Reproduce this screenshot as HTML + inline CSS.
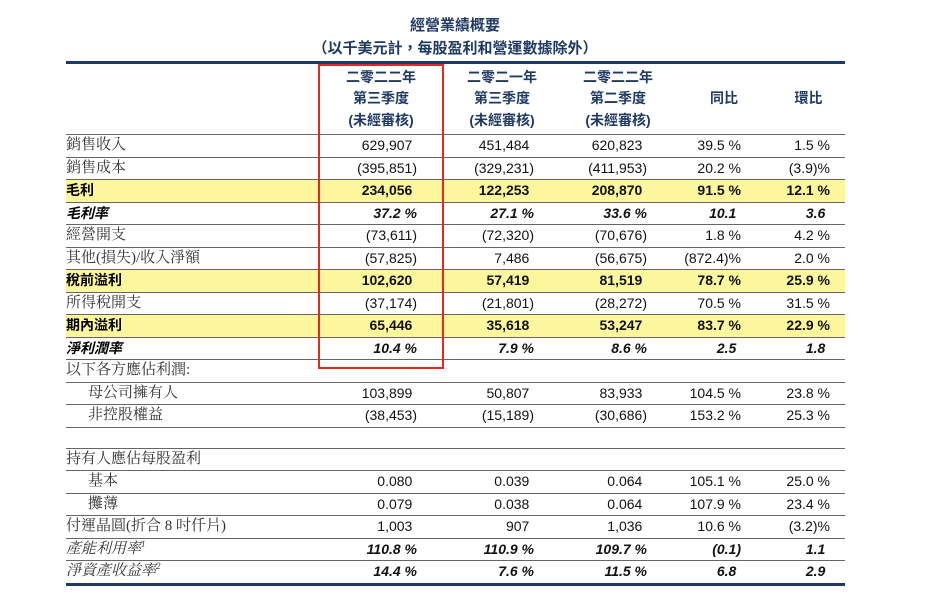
<!DOCTYPE html>
<html><head><meta charset="utf-8"><style>
body{margin:0;background:#fff;width:927px;height:595px;position:relative;overflow:hidden;font-family:"Liberation Sans","Noto Sans CJK TC",sans-serif;}
.t1{position:absolute;left:0;width:910px;text-align:center;top:14px;font-size:15px;font-weight:bold;color:#1f3a63}
.t2{position:absolute;left:0;width:910px;text-align:center;top:37px;font-size:15px;font-weight:bold;color:#1f3a63}
table{position:absolute;left:66px;top:61px;width:779px;border-collapse:collapse;table-layout:fixed;font-size:14px;color:#111}
td{padding:0;height:21.5px;border-bottom:1px solid #666;text-align:right;white-space:nowrap;line-height:21px}
tr.hd td{height:70px;border-top:3px solid #1f3864;text-align:center;font-weight:bold;color:#1f3a63;line-height:21.5px;vertical-align:middle}
td.l{text-align:left;font-family:"Liberation Serif","Noto Serif CJK TC",serif;color:#333;font-size:15px}
td.c1{padding-right:27px}td.c2{padding-right:26px}td.c3{padding-right:29px}td.c4{padding-right:31px}td.c5{padding-right:15px}
td.n::after{content:")";visibility:hidden}
tr.y td{background:#fcf69c;font-weight:bold}
tr.y td.l{font-family:"Liberation Sans","Noto Sans CJK TC",sans-serif;color:#000;font-size:14px}
tr.i td{font-weight:bold;font-style:italic}
tr.i td.l{font-family:"Liberation Sans","Noto Sans CJK TC",sans-serif;color:#000;font-size:14px}
tr.ii td{font-weight:bold;font-style:italic}
tr.ii td.l{font-weight:normal}
td.in{padding-left:22px}
tr.g td{height:20px}
tr.last td{border-bottom:3px solid #1f3864}
.box{position:absolute;left:318px;top:64px;width:122px;height:301px;border:2px solid #e8271f}
sup{font-size:9px;line-height:0}
</style></head><body>
<div class="t1">經營業績概要</div>
<div class="t2">（以千美元計，每股盈利和營運數據除外）</div>
<table>
<colgroup><col style="width:252px"><col style="width:126px"><col style="width:116px"><col style="width:116px"><col style="width:96px"><col style="width:73px"></colgroup>
<tr class="hd"><td></td><td>二零二二年<br>第三季度<br>(未經審核)</td><td>二零二一年<br>第三季度<br>(未經審核)</td><td>二零二二年<br>第二季度<br>(未經審核)</td><td>同比</td><td>環比</td></tr>
<tr><td class="l">銷售收入</td><td class="c1 n">629,907</td><td class="c2 n">451,484</td><td class="c3 n">620,823</td><td class="c4">39.5 %</td><td class="c5">1.5 %</td></tr>
<tr><td class="l">銷售成本</td><td class="c1">(395,851)</td><td class="c2">(329,231)</td><td class="c3">(411,953)</td><td class="c4">20.2 %</td><td class="c5">(3.9)%</td></tr>
<tr class="y"><td class="l">毛利</td><td class="c1 n">234,056</td><td class="c2 n">122,253</td><td class="c3 n">208,870</td><td class="c4">91.5 %</td><td class="c5">12.1 %</td></tr>
<tr class="i"><td class="l">毛利率</td><td class="c1">37.2 %</td><td class="c2">27.1 %</td><td class="c3">33.6 %</td><td class="c4 n">10.1</td><td class="c5 n">3.6</td></tr>
<tr><td class="l">經營開支</td><td class="c1">(73,611)</td><td class="c2">(72,320)</td><td class="c3">(70,676)</td><td class="c4">1.8 %</td><td class="c5">4.2 %</td></tr>
<tr><td class="l">其他(損失)/收入淨額</td><td class="c1">(57,825)</td><td class="c2 n">7,486</td><td class="c3">(56,675)</td><td class="c4">(872.4)%</td><td class="c5">2.0 %</td></tr>
<tr class="y"><td class="l">稅前溢利</td><td class="c1 n">102,620</td><td class="c2 n">57,419</td><td class="c3 n">81,519</td><td class="c4">78.7 %</td><td class="c5">25.9 %</td></tr>
<tr><td class="l">所得稅開支</td><td class="c1">(37,174)</td><td class="c2">(21,801)</td><td class="c3">(28,272)</td><td class="c4">70.5 %</td><td class="c5">31.5 %</td></tr>
<tr class="y"><td class="l">期內溢利</td><td class="c1 n">65,446</td><td class="c2 n">35,618</td><td class="c3 n">53,247</td><td class="c4">83.7 %</td><td class="c5">22.9 %</td></tr>
<tr class="i"><td class="l">淨利潤率</td><td class="c1">10.4 %</td><td class="c2">7.9 %</td><td class="c3">8.6 %</td><td class="c4 n">2.5</td><td class="c5 n">1.8</td></tr>
<tr><td class="l">以下各方應佔利潤:</td><td></td><td></td><td></td><td></td><td></td></tr>
<tr><td class="l in">母公司擁有人</td><td class="c1 n">103,899</td><td class="c2 n">50,807</td><td class="c3 n">83,933</td><td class="c4">104.5 %</td><td class="c5">23.8 %</td></tr>
<tr><td class="l in">非控股權益</td><td class="c1">(38,453)</td><td class="c2">(15,189)</td><td class="c3">(30,686)</td><td class="c4">153.2 %</td><td class="c5">25.3 %</td></tr>
<tr class="g"><td></td><td></td><td></td><td></td><td></td><td></td></tr>
<tr><td class="l">持有人應佔每股盈利</td><td></td><td></td><td></td><td></td><td></td></tr>
<tr><td class="l in">基本</td><td class="c1 n">0.080</td><td class="c2 n">0.039</td><td class="c3 n">0.064</td><td class="c4">105.1 %</td><td class="c5">25.0 %</td></tr>
<tr><td class="l in">攤薄</td><td class="c1 n">0.079</td><td class="c2 n">0.038</td><td class="c3 n">0.064</td><td class="c4">107.9 %</td><td class="c5">23.4 %</td></tr>
<tr><td class="l">付運晶圓(折合 8 吋仟片)</td><td class="c1 n">1,003</td><td class="c2 n">907</td><td class="c3 n">1,036</td><td class="c4">10.6 %</td><td class="c5">(3.2)%</td></tr>
<tr class="ii"><td class="l"><i>產能利用率<sup>1</sup></i></td><td class="c1">110.8 %</td><td class="c2">110.9 %</td><td class="c3">109.7 %</td><td class="c4">(0.1)</td><td class="c5 n">1.1</td></tr>
<tr class="ii last"><td class="l"><i>淨資產收益率<sup>2</sup></i></td><td class="c1">14.4 %</td><td class="c2">7.6 %</td><td class="c3">11.5 %</td><td class="c4 n">6.8</td><td class="c5 n">2.9</td></tr>
</table>
<div class="box"></div>
</body></html>
